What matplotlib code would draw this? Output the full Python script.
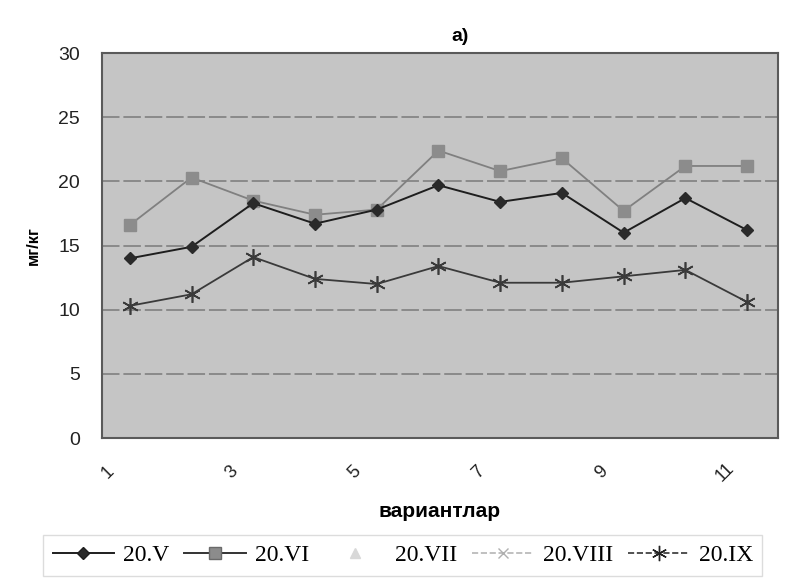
import matplotlib.pyplot as plt
import matplotlib.transforms as mtransforms
from matplotlib.lines import Line2D

variants = list(range(1, 12))
tick_pos = [1, 3, 5, 7, 9, 11]
tick_labels = ["1", "3", "5", "7", "9", "11"]

v_may = [14.0, 14.9, 18.3, 16.7, 17.8, 19.7, 18.4, 19.1, 16.0, 18.7, 16.2]
v_june = [16.6, 20.3, 18.5, 17.4, 17.8, 22.4, 20.8, 21.8, 17.7, 21.2, 21.2]
v_sept = [10.3, 11.2, 14.1, 12.4, 12.0, 13.4, 12.1, 12.1, 12.6, 13.1, 10.6]
series_names = ["20.V", "20.VI", "20.VII", "20.VIII", "20.IX"]

plt.rcParams['font.family'] = ['Liberation Sans', 'DejaVu Sans']

fig = plt.figure(figsize=(8, 5.83), dpi=100)
ax = fig.add_axes([0.1275, 0.2487, 0.845, 0.6603])
ax.set_facecolor('#c5c5c5')

for y in [5, 10, 15, 20, 25]:
    ax.axhline(y, color='#8a8a8a', lw=1.4, ls=(0, (9, 2)), zorder=1)

ax.plot(variants, v_may, color='#1e1e1e', lw=1.4, marker='D', ms=6,
        mfc='#2a2a2a', mec='#2a2a2a', zorder=4)
ax.plot(variants, v_june, color='#808080', lw=1.3, marker='s', ms=8,
        mfc='#8c8c8c', mec='#8c8c8c', zorder=3)
ax.plot(variants, v_sept, color='#3a3a3a', lw=1.3, marker=(6, 2, 0), ms=12,
        mec='#3a3a3a', mew=1.2, zorder=3)

ax.set_xlim(0.55, 11.5)
ax.set_ylim(0, 30)
ax.set_yticks([0, 5, 10, 15, 20, 25, 30])
ax.set_xticks(tick_pos)
ax.set_xticklabels(tick_labels, rotation=45, fontsize=13, color='#333333',
                   ha='center', va='center')
ax.tick_params(axis='both', length=0, colors='#222222')
ax.tick_params(axis='y', labelsize=14, pad=16)
ax.tick_params(axis='x', pad=0)
offset = mtransforms.ScaledTranslation(-0.22, -0.34, fig.dpi_scale_trans)
for lab in ax.get_xticklabels():
    lab.set_transform(lab.get_transform() + offset)

for s in ax.spines.values():
    s.set_color('#5a5a5a')
    s.set_linewidth(1.5)

ax.set_ylabel("мг/кг", fontsize=12, fontweight='bold', labelpad=2)
ax.yaxis.set_label_coords(-0.09, 0.5)
ax.set_xlabel("вариантлар", fontsize=15, fontweight='bold')
ax.xaxis.set_label_coords(0.5, -0.165)
fig.text(0.575, 0.937, "a)", ha='center', va='center', fontsize=14, fontweight='bold')

handles = [
    Line2D([], [], color='#1e1e1e', lw=1.4, marker='D', ms=6, mfc='#2a2a2a'),
    Line2D([], [], color='#333333', lw=1.4, marker='s', ms=8, mfc='#8c8c8c', mec='#6a6a6a'),
    Line2D([], [], color='none', marker='^', ms=7, mfc='#d8d8d8', mec='#d8d8d8'),
    Line2D([], [], color='#b5b5b5', lw=1.2, ls='--', marker='x', ms=7, mec='#b0b0b0'),
    Line2D([], [], color='#333333', lw=1.2, ls='--', marker=(6, 2, 0), ms=11, mec='#222222'),
]
leg = fig.legend(handles, series_names, loc='center', ncol=5, mode='expand',
                 bbox_to_anchor=(0.054, 0.009, 0.899, 0.077), borderaxespad=0,
                 frameon=True, handlelength=2.6, handletextpad=0.4,
                 columnspacing=0.5, borderpad=0.4,
                 prop={'family': 'Liberation Serif', 'size': 17})
leg.get_frame().set_edgecolor('#d4d4d4')
leg.get_frame().set_boxstyle('square', pad=0)

fig.savefig("out.png", dpi=100)
